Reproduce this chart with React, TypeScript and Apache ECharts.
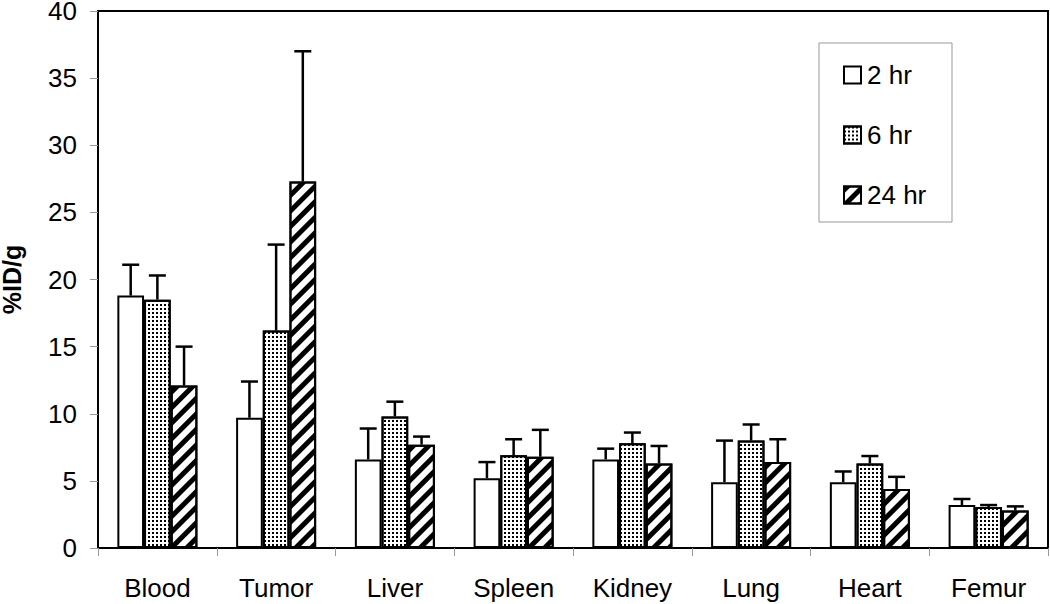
import React, { useEffect, useRef } from "react";
import * as echarts from "echarts";

const categories = ["Blood", "Tumor", "Liver", "Spleen", "Kidney", "Lung", "Heart", "Femur"];
const seriesNames = ["2 hr", "6 hr", "24 hr"];
const mean2hr = [18.8, 9.7, 6.6, 5.2, 6.6, 4.9, 4.9, 3.2];
const mean6hr = [18.5, 16.2, 9.8, 6.9, 7.8, 8.0, 6.3, 3.05];
const mean24hr = [12.1, 27.3, 7.7, 6.8, 6.3, 6.4, 4.4, 2.8];
const errTop2hr = [21.1, 12.4, 8.9, 6.4, 7.4, 8.0, 5.7, 3.65];
const errTop6hr = [20.3, 22.6, 10.9, 8.1, 8.6, 9.2, 6.85, 3.2];
const errTop24hr = [15.0, 37.0, 8.3, 8.8, 7.6, 8.1, 5.3, 3.1];
const yTicks = { min: 0, max: 40, interval: 5 };

const FONT = "'Liberation Sans', Arial, sans-serif";
const CAT_GAP = 0.326;

export default function App() {
  const ref = useRef<HTMLDivElement>(null);
  useEffect(() => {
    document.body.style.margin = "0";
    const chart = echarts.init(ref.current!, null, { renderer: "svg" });
    const means = [mean2hr, mean6hr, mean24hr];
    const errs = [errTop2hr, errTop6hr, errTop24hr];
    const decals: any[] = [
      null,
      {
        symbol: "rect",
        symbolSize: 1,
        dashArrayX: [1.5, 1.5],
        dashArrayY: [1.5, 1.5],
        color: "#000",
        backgroundColor: "#fff",
        rotation: 0,
      },
      {
        symbol: "rect",
        symbolSize: 1,
        dashArrayX: [1, 0],
        dashArrayY: [4.5, 6],
        color: "#000",
        backgroundColor: "#fff",
        rotation: -Math.PI / 4,
      },
    ];
    const barSeries = seriesNames.map((name, i) => ({
      name,
      type: "bar",
      data: means[i],
      barGap: "0%",
      barCategoryGap: (CAT_GAP * 100).toFixed(1) + "%",
      itemStyle: {
        color: "#fff",
        borderColor: "#000",
        borderWidth: 2,
        ...(decals[i] ? { decal: decals[i] } : {}),
      },
      z: 2,
    }));
    const errSeries = seriesNames.map((name, i) => ({
      name: name + " err",
      type: "custom",
      z: 3,
      data: means[i].map((m, k) => [k, m, errs[i][k]]),
      renderItem: (params: any, api: any) => {
        const idx = api.value(0);
        const base = api.coord([idx, api.value(1)]);
        const top = api.coord([idx, api.value(2)]);
        const band = api.size([1, 0])[0];
        const bw = (band * (1 - CAT_GAP)) / 3;
        const x = base[0] + (i - 1) * bw;
        const cap = 8.5;
        return {
          type: "group",
          children: [
            {
              type: "line",
              shape: { x1: x, y1: base[1], x2: x, y2: top[1] },
              style: { stroke: "#000", lineWidth: 2.5 },
            },
            {
              type: "line",
              shape: { x1: x - cap, y1: top[1], x2: x + cap, y2: top[1] },
              style: { stroke: "#000", lineWidth: 2.5 },
            },
          ],
        };
      },
      encode: { x: 0, y: 2 },
    }));
    chart.setOption({
      animation: false,
      aria: { enabled: false },
      textStyle: { fontFamily: FONT },
      grid: {
        left: 98,
        top: 11,
        right: 2,
        bottom: 56,
        show: true,
        borderColor: "#000",
        borderWidth: 2,
        containLabel: false,
        outerBoundsMode: "none",
      },
      legend: {
        data: seriesNames,
        orient: "vertical",
        left: 843,
        top: 62,
        padding: 0,
        itemWidth: 17,
        itemHeight: 17,
        itemGap: 34,
        icon: "rect",
        textStyle: { fontSize: 26, fontFamily: FONT, color: "#000", lineHeight: 26, padding: [0, 0, 0, 1] },
      },
      graphic: [
        {
          type: "rect",
          shape: { x: 819, y: 43, width: 133, height: 179 },
          style: { fill: "none", stroke: "#999", lineWidth: 1 },
          z: 10,
        },
      ],
      xAxis: {
        type: "category",
        data: categories,
        axisLine: { lineStyle: { color: "#000", width: 2 } },
        axisTick: { show: true, length: 8, lineStyle: { color: "#999", width: 1 } },
        axisLabel: { fontSize: 26, color: "#000", margin: 27, lineHeight: 26, fontFamily: FONT },
        splitLine: { show: false },
      },
      yAxis: {
        type: "value",
        min: yTicks.min,
        max: yTicks.max,
        interval: yTicks.interval,
        name: "%ID/g",
        nameLocation: "middle",
        nameGap: 76,
        nameTextStyle: { fontSize: 25, fontWeight: "bold", color: "#000", lineHeight: 20, fontFamily: FONT },
        axisLine: { show: true, lineStyle: { color: "#000", width: 2 } },
        axisTick: { show: true, length: 8, lineStyle: { color: "#999", width: 1 } },
        axisLabel: { fontSize: 26, color: "#000", margin: 21, lineHeight: 20, fontFamily: FONT },
        splitLine: { show: false },
      },
      series: [...barSeries, ...errSeries],
    });
    return () => chart.dispose();
  }, []);
  return <div ref={ref} style={{ width: 1050, height: 604 }} />;
}
